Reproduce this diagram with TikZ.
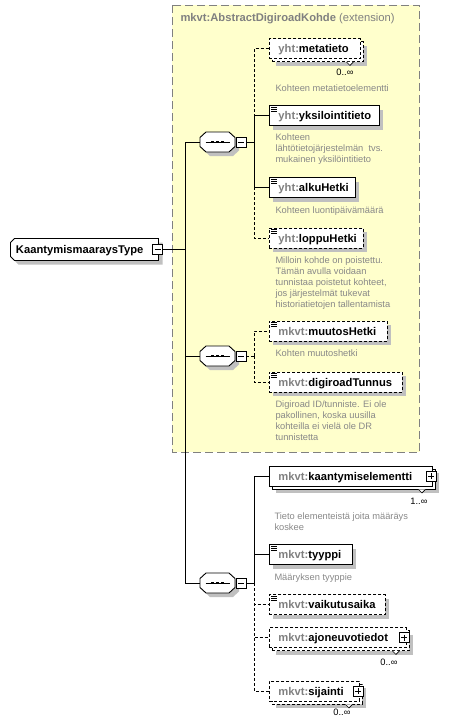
\documentclass[tikz,border=0pt]{standalone}
\usepackage{fontspec}
\setmainfont{Liberation Sans}
\usetikzlibrary{backgrounds,calc,positioning,shadows}

\definecolor{extyellow}{RGB}{255,255,204}
\definecolor{extgray}{RGB}{128,128,128}
\definecolor{prefixgray}{RGB}{128,128,128}
\definecolor{descgray}{RGB}{136,136,136}
\definecolor{shadowgray}{RGB}{192,192,192}

\newcommand{\elfont}{\fontsize{11.2}{13}\selectfont\bfseries}
\newcommand{\descfont}{\fontsize{9.3}{11}\selectfont}
\newcommand{\pfx}[1]{\textcolor{prefixgray}{#1}}

\tikzset{
  elbase/.style={draw, fill=white, line width=0.9pt, font=\elfont, minimum height=20pt,
    inner xsep=9pt, inner ysep=0pt, text height=10pt, text depth=2pt,
    text width=#1pt, align=left, anchor=west},
  elbox/.style={elbase=#1, drop shadow={shadow xshift=4pt, shadow yshift=-4pt, fill=shadowgray, opacity=1}},
  optbox/.style={elbox=#1, dash pattern=on 3pt off 2pt},
  elstack/.style={elbase=#1,
    general shadow={shadow xshift=7pt, shadow yshift=-7pt, fill=shadowgray},
    general shadow={shadow xshift=3pt, shadow yshift=-3pt, fill=white, draw=black, line width=0.9pt}},
  optstack/.style={elbase=#1, dash pattern=on 3pt off 2pt,
    general shadow={shadow xshift=7pt, shadow yshift=-7pt, fill=shadowgray},
    general shadow={shadow xshift=3pt, shadow yshift=-3pt, fill=white, draw=black, line width=0.9pt, dash pattern=on 3pt off 2pt}},
  rootbox/.style={font=\elfont, minimum width=147pt, minimum height=21pt,
    inner xsep=5pt, inner ysep=0pt, text height=10pt, text depth=2pt, text width=137pt, align=left},
  rootshape/.style={draw, fill=white, line width=0.9pt,
    drop shadow={shadow xshift=4pt, shadow yshift=-4pt, fill=shadowgray, opacity=1}},
  seqbox/.style={minimum width=35pt, minimum height=20pt, inner sep=0pt},
  pmbox/.style={draw, fill=white, line width=0.8pt, minimum size=10pt, inner sep=0pt},
  minusbox/.style={pmbox, path picture={\draw[line width=0.8pt]
    ([xshift=2pt]path picture bounding box.west) -- ([xshift=-2pt]path picture bounding box.east);}},
  plusbox/.style={pmbox, path picture={\draw[line width=0.8pt]
    ([xshift=2pt]path picture bounding box.west) -- ([xshift=-2pt]path picture bounding box.east)
    ([yshift=-2pt]path picture bounding box.north) -- ([yshift=2pt]path picture bounding box.south);}},
  desc/.style={anchor=north west, inner sep=0pt, align=left, font=\descfont, text=descgray},
  mult/.style={inner sep=0pt, font=\descfont},
  opt/.style={dash pattern=on 3pt off 2pt},
  extbox/.style={draw=extgray, fill=extyellow, line width=1pt, dash pattern=on 8pt off 4pt},
  pics/seqshape/.style={code={
    \draw[line width=0.9pt, fill=white,
      drop shadow={shadow xshift=4pt, shadow yshift=-4pt, fill=shadowgray, opacity=1}]
      (-11.5,-10) -- (11.5,-10) -- (17.5,-4.5) -- (17.5,4.5) -- (11.5,10)
      -- (-11.5,10) -- (-17.5,4.5) -- (-17.5,-4.5) -- cycle;
    \draw[line width=0.9pt] (-12,0) -- (12,0);
    \foreach \dx in {-5,0,5} {\fill (\dx-1.4,-1.4) rectangle (\dx+1.4,1.4);}
  }},
  pics/docmark/.style={code={
    \draw[line width=0.6pt] (2,2) -- (8,2) (2,4) -- (8,4) (2,6) -- (8,6);
  }},
  pics/notch/.style={code={
    \draw[line width=0.6pt, fill=white] (-3.5,0) -- (0,3.5) -- (3.5,0);
  }}
}

\begin{document}
\begin{tikzpicture}[x=1pt,y=-1pt,line width=1pt]
  \useasboundingbox (0,0) rectangle (462,726);

  % Drawing extension area
  \draw[extbox] (172,5) rectangle (419.5,452);
  \node[anchor=west, inner sep=0pt, text=extgray] (exttitle) at (180,19)
    {\elfont mkvt:AbstractDigiroadKohde\mdseries\ (extension)};

  % Drawing root type
  \node[rootbox] (root) at (84.5,249.5) {KaantymismaaraysType};
  \begin{scope}[on background layer]
    \draw[rootshape] ($(root.north west)+(4,0)$) -- (root.north east) -- (root.south east)
      -- ($(root.south west)+(4,0)$) -- ($(root.south west)+(0,-4)$)
      -- ($(root.north west)+(0,4)$) -- cycle;
  \end{scope}
  \node[minusbox] (rootm) at ($(root.east)+(-1,0)$) {};
  \coordinate (trunk) at (185,249.5);

  % Drawing sequences
  \node[seqbox] (s1) at (217.5,142) {};
  \pic at (s1.center) {seqshape};
  \node[minusbox, anchor=west] (s1m) at (s1.east) {};
  \coordinate (b1) at (254,142);
  \node[seqbox] (s2) at (217.5,356) {};
  \pic at (s2.center) {seqshape};
  \node[minusbox, anchor=west] (s2m) at (s2.east) {};
  \coordinate (b2) at (254,356);
  \node[seqbox] (s3) at (217.5,583) {};
  \pic at (s3.center) {seqshape};
  \node[minusbox, anchor=west] (s3m) at (s3.east) {};
  \coordinate (b3) at (254,583);

  % Drawing element yht:metatieto
  \node[optstack=73] (meta) at (269,48.5) {\pfx{yht:}metatieto};
  \pic at ($(meta.south east)+(-11,3)$) {notch};
  \node[mult] (metamult) at ($(meta.south east)+(-16,13.5)$) {0..∞};
  \node[desc] (dmeta) at (275,84.5) {Kohteen metatietoelementti};

  % Drawing element yht:yksilointitieto
  \node[elbox=92] (yks) at (269,115.5) {\pfx{yht:}yksilointitieto};
  \pic at (yks.north west) {docmark};
  \node[desc] (dyks) at (275,133.5) {Kohteen\\lähtötietojärjestelmän\ \ tvs.\\mukainen yksilöintitieto};

  % Drawing element yht:alkuHetki
  \node[elbox=68] (alku) at (269,187.5) {\pfx{yht:}alkuHetki};
  \pic at (alku.north west) {docmark};
  \node[desc] (dalku) at (275,206.5) {Kohteen luontipäivämäärä};

  % Drawing element yht:loppuHetki
  \node[optbox=76] (loppu) at (269,238) {\pfx{yht:}loppuHetki};
  \pic at (loppu.north west) {docmark};
  \node[desc] (dloppu) at (275,256.5) {Milloin kohde on poistettu.\\Tämän avulla voidaan\\tunnistaa poistetut kohteet,\\jos järjestelmät tukevat\\historiatietojen tallentamista};

  % Drawing element mkvt:muutosHetki
  \node[optbox=100] (muutos) at (269,331) {\pfx{mkvt:}muutosHetki};
  \pic at (muutos.north west) {docmark};
  \node[desc] (dmuutos) at (275,349.5) {Kohten muutoshetki};

  % Drawing element mkvt:digiroadTunnus
  \node[optbox=115] (digi) at (269,382) {\pfx{mkvt:}digiroadTunnus};
  \pic at (digi.north west) {docmark};
  \node[desc] (ddigi) at (275,400.5) {Digiroad ID/tunniste. Ei ole\\pakollinen, koska uusilla\\kohteilla ei vielä ole DR\\tunnistetta};

  % Drawing element mkvt:kaantymiselementti
  \node[elstack=145] (kaant) at (269,476) {\pfx{mkvt:}kaantymiselementti};
  \node[plusbox] (kaantp) at ($(kaant.east)+(-2,0)$) {};
  \pic at ($(kaant.south east)+(-11,3)$) {notch};
  \node[mult] (kaantmult) at ($(kaant.south east)+(-14,15)$) {1..∞};
  \node[desc] (dkaant) at (274,512.5) {Tieto elementeistä joita määräys\\koskee};

  % Drawing element mkvt:tyyppi
  \node[elbox=65] (tyyppi) at (269,554.5) {\pfx{mkvt:}tyyppi};
  \pic at (tyyppi.north west) {docmark};
  \node[desc] (dtyyppi) at (274,573.5) {Määryksen tyyppie};

  % Drawing element mkvt:vaikutusaika
  \node[optbox=98] (vaik) at (269,604.5) {\pfx{mkvt:}vaikutusaika};
  \pic at (vaik.north west) {docmark};

  % Drawing element mkvt:ajoneuvotiedot
  \node[optstack=119] (ajon) at (269,637.5) {\pfx{mkvt:}ajoneuvotiedot};
  \node[plusbox] (ajonp) at ($(ajon.east)+(-3,0)$) {};
  \pic at ($(ajon.south east)+(-11,3)$) {notch};
  \node[mult] (ajonmult) at ($(ajon.south east)+(-18,14)$) {0..∞};

  % Drawing element mkvt:sijainti
  \node[optstack=72] (sij) at (269,691) {\pfx{mkvt:}sijainti};
  \node[plusbox] (sijp) at ($(sij.east)+(-2,0)$) {};
  \pic at ($(sij.south east)+(-11,3)$) {notch};
  \node[mult] (sijmult) at ($(sij.south east)+(-18,11)$) {0..∞};

  % Drawing connectors
  \draw (rootm.east) -- (trunk);
  \draw (trunk) |- (s1.west);
  \draw (trunk) |- (s2.west);
  \draw (trunk) |- (s3.west);
  \draw (s1m.east) -- (b1);
  \draw (b1) |- (yks.west);
  \draw (b1) |- (alku.west);
  \draw[opt] (b1) |- (meta.west);
  \draw[opt] (b1) |- (loppu.west);
  \draw[opt] (s2m.east) -- (b2);
  \draw[opt] (b2) |- (muutos.west);
  \draw[opt] (b2) |- (digi.west);
  \draw (s3m.east) -- (b3);
  \draw (b3) |- (kaant.west);
  \draw (b3) |- (tyyppi.west);
  \draw[opt] (b3) |- (vaik.west);
  \draw[opt] (b3) |- (ajon.west);
  \draw[opt] (b3) |- (sij.west);
\end{tikzpicture}
\end{document}
